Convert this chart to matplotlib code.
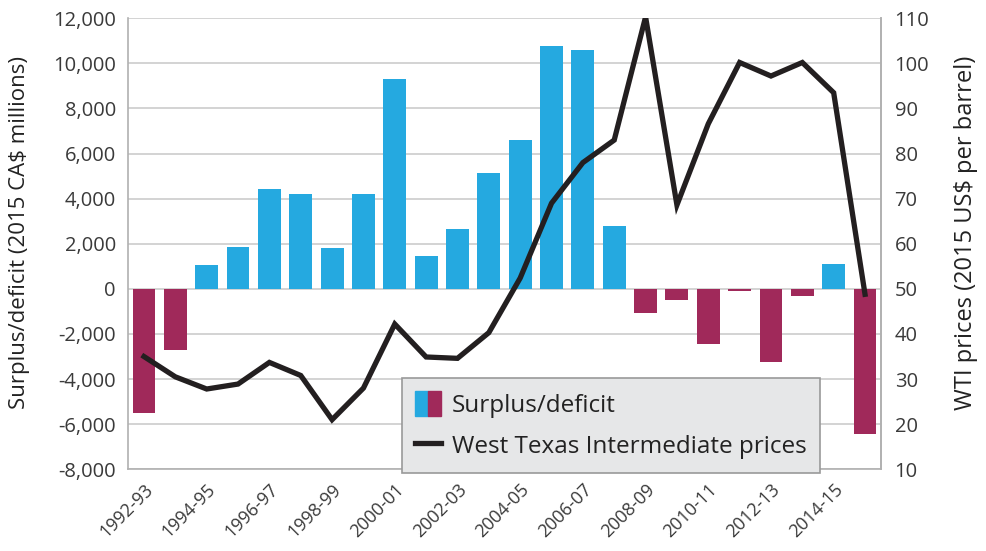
import matplotlib
matplotlib.use('Agg')
import matplotlib.pyplot as plt
from matplotlib.patches import Patch
from matplotlib.lines import Line2D
from matplotlib.legend_handler import HandlerTuple

years = ['1992-93', '1993-94', '1994-95', '1995-96', '1996-97', '1997-98',
         '1998-99', '1999-00', '2000-01', '2001-02', '2002-03', '2003-04',
         '2004-05', '2005-06', '2006-07', '2007-08', '2008-09', '2009-10',
         '2010-11', '2011-12', '2012-13', '2013-14', '2014-15', '2015-16']
balance = [-5500, -2700, 1050, 1850, 4450, 4200, 1800, 4200, 9300, 1450,
           2650, 5150, 6600, 10750, 10600, 2800, -1050, -500, -2450, -100,
           -3250, -300, 1100, -6450]
wti = [35.0, 30.5, 27.8, 28.9, 33.7, 30.8, 21.0, 28.0, 42.2, 34.9, 34.6,
       40.3, 52.4, 69.0, 78.0, 83.0, 110.3, 68.6, 86.6, 100.2, 97.2, 100.2,
       93.5, 48.8]

BLUE = '#25A9E0'
MAROON = '#A0295A'
LINE = '#231F20'
TEXT = '#3A3A3A'
GRID = '#CCCCCC'

plt.rcParams['font.family'] = ['Open Sans', 'DejaVu Sans']

fig = plt.figure(figsize=(9.87, 5.51), dpi=100)
ax = fig.add_axes([0.130, 0.1483, 0.7623, 0.8185])

x = list(range(len(years)))
colors = [BLUE if v >= 0 else MAROON for v in balance]
ax.bar(x, balance, width=0.73, color=colors, zorder=2)

ax.set_xlim(-0.5, len(years) - 0.5)
ax.set_ylim(-8000, 12000)
ax.set_yticks(range(-8000, 12001, 2000))
ax.set_yticklabels([f'{v:,}' for v in range(-8000, 12001, 2000)])
ax.yaxis.grid(True, color=GRID, linewidth=1.2)
ax.set_axisbelow(True)

ax.set_xticks(x[::2])
ax.set_xticklabels(years[::2], rotation=45, ha='right', rotation_mode='anchor')

for side in ['left', 'bottom', 'right']:
    ax.spines[side].set_color('#B0B0B0')
    ax.spines[side].set_linewidth(1.2)
ax.spines['top'].set_visible(False)

ax.tick_params(axis='y', length=0, pad=9, labelsize=14.5, labelcolor=TEXT)
ax.tick_params(axis='x', length=0, pad=8, labelsize=13, labelcolor=TEXT)
ax.set_ylabel('Surplus/deficit (2015 CA$ millions)', fontsize=16,
              color='#222222')
ax.yaxis.set_label_coords(-0.131, 0.525)

ax2 = ax.twinx()
ax2.plot(x, wti, color=LINE, linewidth=3.8, solid_joinstyle='miter', zorder=3)
ax2.set_ylim(10, 110)
ax2.set_yticks(range(10, 111, 10))
ax2.tick_params(axis='y', length=0, pad=10, labelsize=14.5, labelcolor=TEXT)
for side in ['top', 'left', 'bottom']:
    ax2.spines[side].set_visible(False)
ax2.spines['right'].set_color('#B0B0B0')
ax2.spines['right'].set_linewidth(1.2)
ax2.set_ylabel('WTI prices (2015 US$ per barrel)', fontsize=17,
               color='#222222')
ax2.yaxis.set_label_coords(1.097, 0.525)

handles = [(Patch(color=BLUE), Patch(color=MAROON)),
           Line2D([], [], color=LINE, linewidth=3.8)]
leg = ax2.legend(handles, ['Surplus/deficit', 'West Texas Intermediate prices'],
                 handler_map={tuple: HandlerTuple(ndivide=None, pad=0)},
                 loc='upper left', bbox_to_anchor=(0.407, 0.314),
                 bbox_transform=fig.transFigure, fontsize=17.5, frameon=True,
                 fancybox=False, handlelength=1.07, handleheight=1.2,
                 handletextpad=0.45, borderpad=0.55, labelspacing=0.6,
                 borderaxespad=0)
leg.get_frame().set_facecolor('#E6E7E8')
leg.get_frame().set_edgecolor('#999999')
leg.get_frame().set_linewidth(1.2)
leg.get_frame().set_alpha(1)
for t in leg.get_texts():
    t.set_color('#222222')

fig.savefig('out.png', dpi=100)
